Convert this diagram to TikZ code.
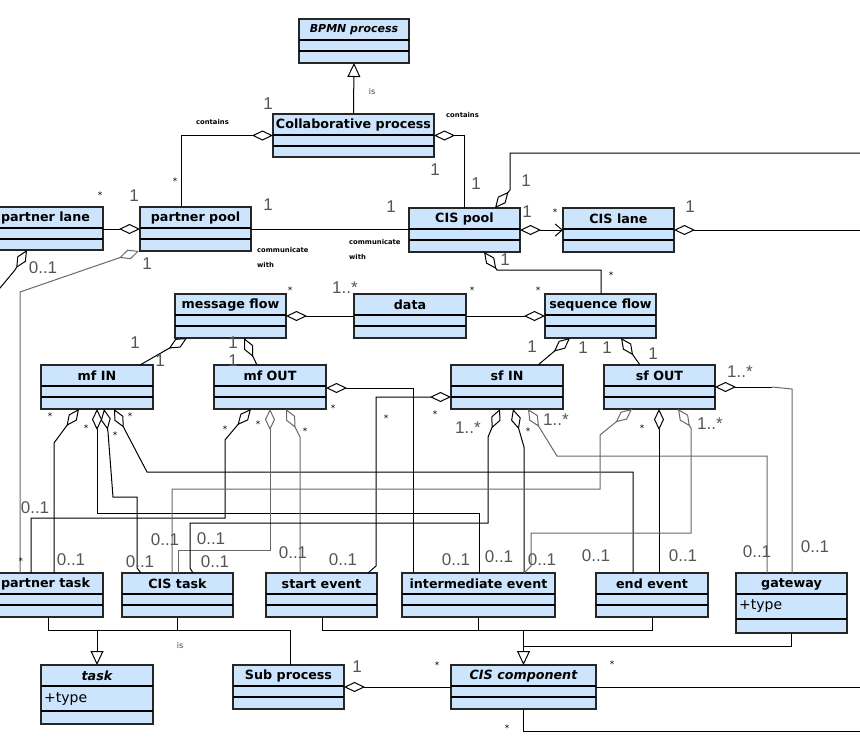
\documentclass[tikz,border=0pt]{standalone}
\usepackage{fontspec}
\setmainfont{DejaVu Sans}
\newfontfamily\multfont{Liberation Sans}
\usetikzlibrary{arrows.meta}
\definecolor{clsfill}{RGB}{204,228,252}
\definecolor{multgray}{RGB}{85,85,85}
\definecolor{lgray}{RGB}{105,105,105}
\tikzset{
 clsbox/.style={draw=black!85, fill=clsfill, line width=1.1pt, rectangle, inner sep=0pt, outer sep=0pt},
 cmpline/.style={line width=1.3pt, black},
 clsname/.style={font=\fontsize{12.7}{14}\selectfont\bfseries, inner sep=0pt},
 clsital/.style={font=\fontsize{12.7}{14}\selectfont\bfseries\itshape, inner sep=0pt},
 clsitals/.style={font=\fontsize{11}{13}\selectfont\bfseries\itshape, inner sep=0pt},
 attr/.style={font=\fontsize{14}{16}\selectfont, inner sep=0pt, anchor=west},
 conn/.style={draw=black, line width=1pt},
 conng/.style={draw=lgray, line width=1pt},
 agg/.style={{Diamond[open,length=21pt,width=10pt]}-},
 gen/.style={-{Triangle[open,length=14pt,width=13pt]}},
 mult/.style={font=\multfont\fontsize{17}{18}\selectfont, text=multgray, inner sep=0pt},
 star/.style={font=\fontsize{9}{10}\selectfont, inner sep=0pt},
 tinylbl/.style={font=\fontsize{6.8}{15}\selectfont\bfseries, inner sep=0pt, align=left, anchor=west},
 islbl/.style={font=\fontsize{8}{9}\selectfont, text=black!75, inner sep=0pt},
}
\newcommand{\umlcls}[8]{%
  \node[clsbox, minimum width={#4-#2}, minimum height={#5-#3}] (#1) at ({(#2+#4)/2},{(#3+#5)/2}) {};
  \draw[cmpline] ([yshift=-21pt]#1.north west) -- ([yshift=-21pt]#1.north east);
  \draw[cmpline] ([yshift=-#8pt]#1.north west) -- ([yshift=-#8pt]#1.north east);
  \node[#6] (#1-t) at ([yshift=-11pt]#1.north) {#7};
}
\begin{document}
\begin{tikzpicture}[x=1pt,y=-1pt]
\useasboundingbox (0,0) rectangle (860,737);
\clip (0,0) rectangle (860,737);
\fill[white] (0,0) rectangle (860,737);

% ---------- boxes ----------
\umlcls{bpmn}{299}{19}{409}{63}{clsitals}{BPMN process}{32}
\umlcls{collab}{273}{114}{434}{157}{clsname}{Collaborative process}{32}
\umlcls{plane}{-12}{207}{103}{250}{clsname}{partner lane}{32}
\umlcls{ppool}{140}{207}{251}{251}{clsname}{partner pool}{32}
\umlcls{cpool}{409}{208}{520}{252}{clsname}{CIS pool}{32}
\umlcls{clane}{563}{208}{674}{252}{clsname}{CIS lane}{32}
\umlcls{mflow}{175}{294}{286}{338}{clsname}{message flow}{32}
\umlcls{data}{354}{294}{466}{338}{clsname}{data}{32}
\umlcls{sflow}{545}{294}{656}{338}{clsname}{sequence flow}{32}
\umlcls{mfin}{41}{365}{153}{409}{clsname}{mf IN}{32}
\umlcls{mfout}{214}{365}{326}{409}{clsname}{mf OUT}{32}
\umlcls{sfin}{451}{365}{563}{409}{clsname}{sf IN}{32}
\umlcls{sfout}{604}{365}{715}{409}{clsname}{sf OUT}{32}
\umlcls{ptask}{-12}{573}{103}{617}{clsname}{partner task}{32}
\umlcls{ctask}{122}{573}{233}{617}{clsname}{CIS task}{32}
\umlcls{sevent}{266}{573}{377}{617}{clsname}{start event}{32}
\umlcls{ievent}{402}{573}{555}{617}{clsname}{intermediate event}{32}
\umlcls{eevent}{596}{573}{708}{617}{clsname}{end event}{32}
\umlcls{gateway}{736}{573}{847}{633}{clsname}{gateway}{46}
\umlcls{task}{41}{665}{153}{724}{clsital}{task}{46}
\umlcls{subp}{233}{665}{344}{709}{clsname}{Sub process}{32}
\umlcls{ccomp}{451}{665}{596}{709}{clsital}{CIS component}{32}
\node[attr] (gattr) at ([xshift=3pt,yshift=-33pt]gateway.north west) {+type};
\node[attr] (tattr) at ([xshift=3pt,yshift=-34pt]task.north west) {+type};

% ---------- generalizations ----------
\draw[conn, gen] (collab.north) -- (bpmn.south);
\node[islbl] (is1) at (372,92) {is};
\draw[conn] (48,0 |- ptask.south) -- (48,630) -- (290,630) -- (290,0 |- subp.north);
\draw[conn] (ctask.south) -- (177.5,630);
\draw[conn, gen] (97,630) -- (task.north);
\node[islbl] (is2) at (180,646) {is};
\draw[conn] (322,0 |- sevent.south) -- (322,630) -- (652,630) -- (eevent.south);
\draw[conn] (ievent.south) -- (478.5,630);
\draw[conn] (gateway.south) -- (791.5,646) -- (523.5,646);
\draw[conn, gen] (523.5,630) -- (ccomp.north);

% ---------- upper associations ----------
\draw[conn, agg] (collab.west) -- (181,135.5) -- (181,0 |- ppool.north);
\draw[conn, agg] (collab.east) -- (464,135.5) -- (464,0 |- cpool.north);
\node[tinylbl] (c1) at (196,122) {contains};
\node[tinylbl] (c2) at (446,115) {contains};
\draw[conn, agg] (ppool.west) -- (plane.east |- ppool.west);
\draw[conn] (ppool.east) -- (cpool.west |- ppool.east);
\node[tinylbl] (cw1) at (257,257) {communicate\\with};
\node[tinylbl] (cw2) at (349,249) {communicate\\with};
\draw[conn, {Diamond[open,length=21pt,width=10pt]}-{Straight Barb[length=7pt,width=12pt]}] (cpool.east) -- (clane.west);
\draw[conn, agg] (495,0 |- cpool.north) -- (510,190) -- (510,153) -- (870,153);
\draw[conn, agg] (484,0 |- cpool.south) -- (497,270) -- (601,270) -- (601,0 |- sflow.north);
\draw[conn, agg] (clane.east) -- (870,230);
\draw[conng, agg] (139,0 |- ppool.south) -- (20,292) -- (20,0 |- ptask.north);
\draw[conn, agg] (27,0 |- plane.south) -- (15,270) -- (-10,300);

% ---------- flows ----------
\draw[conn, agg] (mflow.east) -- (data.west);
\draw[conn, agg] (sflow.west) -- (data.east);
\draw[conn, agg] (187,0 |- mflow.south) -- (140,0 |- mfin.north);
\draw[conn, agg] (244,0 |- mflow.south) -- (257,0 |- mfout.north);
\draw[conn, agg] (570,0 |- sflow.south) -- (538,0 |- sfin.north);
\draw[conn, agg] (621,0 |- sflow.south) -- (640,0 |- sfout.north);
\draw[conn, agg] (sfout.east) -- (772,387);
\draw[conng] (772,387) -- (792,389) -- (792,0 |- gateway.north);
\draw[conn, agg] (0,397 -| sfin.west) -- (376,397) -- (376,566) -- (368,0 |- sevent.north);
\draw[conn, agg] (0,388 -| mfout.east) -- (413,388) -- (413,0 |- ievent.north);

% ---------- mf IN ----------
\draw[conn, agg] (79,0 |- mfin.south) -- (54,443) -- (54,0 |- ptask.north);
\draw[conn, agg] (97,0 |- mfin.south) -- (97,513) -- (479,513) -- (479,0 |- ievent.north);
\draw[conn, agg] (104,0 |- mfin.south) -- (108,432) -- (113,497) -- (137,497) -- (137,568) -- (141,0 |- ctask.north);
\draw[conn, agg] (114,0 |- mfin.south) -- (147,472) -- (633,472) -- (633,0 |- eevent.north);
% ---------- mf OUT ----------
\draw[conn, agg] (251,0 |- mfout.south) -- (225,440) -- (225,518) -- (31,518) -- (31,0 |- ptask.north);
\draw[conng, agg] (270,0 |- mfout.south) -- (270,550) -- (178,550) -- (178,0 |- ctask.north);
\draw[conng, agg] (286,0 |- mfout.south) -- (300,437) -- (300,0 |- sevent.north);
% ---------- sf IN ----------
\draw[conn, agg] (500,0 |- sfin.south) -- (488,437) -- (488,523) -- (190,523) -- (190,568) -- (193,0 |- ctask.north);
\draw[conn, agg] (513,0 |- sfin.south) -- (524,447) -- (524,0 |- ievent.north);
\draw[conng, agg] (528,0 |- sfin.south) -- (557,456) -- (767,456) -- (767,0 |- gateway.north);
% ---------- sf OUT ----------
\draw[conng, agg] (632,0 |- sfout.south) -- (600,435) -- (600,489) -- (172,489) -- (172,0 |- ctask.north);
\draw[conn, agg] (659,0 |- sfout.south) -- (659,0 |- eevent.north);
\draw[conng, agg] (678,0 |- sfout.south) -- (691,428) -- (691,533) -- (531,533) -- (531,566) -- (524,0 |- ievent.north);

% ---------- bottom ----------
\draw[conn, agg] (subp.east) -- (ccomp.west);
\draw[conn] (ccomp.east) -- (870,687);
\draw[conn] (523,0 |- ccomp.south) -- (523,731) -- (870,731);

% ---------- multiplicities ----------
\node[mult] (m1) at (268,104) {1};
\node[star] (s1) at (175,181) {*};
\node[mult] (m2) at (435,170) {1};
\node[star] (s2) at (100,195) {*};
\node[mult] (m3) at (134,196) {1};
\node[mult] (m4) at (268,205) {1};
\node[mult] (m5) at (391,207) {1};
\node[mult] (m6) at (476,184) {1};
\node[mult] (m7) at (526,181) {1};
\node[mult] (m8) at (527,212) {1};
\node[star] (s3) at (555,212) {*};
\node[mult] (m9) at (690,207) {1};
\node[mult] (m10) at (147,264) {1};
\node[mult] (m11) at (43,268) {0..1};
\node[mult] (m12) at (505,260) {1};
\node[star] (s4) at (611,275) {*};
\node[star] (s5) at (290,290) {*};
\node[mult] (m13) at (345,288) {1..*};
\node[star] (s6) at (472,290) {*};
\node[star] (s7) at (538,290) {*};
\node[mult] (m14) at (135,343) {1};
\node[mult] (m15) at (160,361) {1};
\node[mult] (m16) at (233,343) {1};
\node[mult] (m17) at (233,361) {1};
\node[mult] (m18) at (532,347) {1};
\node[mult] (m19) at (583,348) {1};
\node[mult] (m20) at (607,348) {1};
\node[mult] (m21) at (653,354) {1};
\node[mult] (m22) at (740,372) {1..*};
\node[star] (s8) at (50,416) {*};
\node[star] (s9) at (86,428) {*};
\node[star] (s10) at (115,435) {*};
\node[star] (s11) at (130,416) {*};
\node[star] (s12) at (225,429) {*};
\node[star] (s13) at (258,424) {*};
\node[star] (s14) at (305,431) {*};
\node[star] (s15) at (333,408) {*};
\node[star] (s16) at (386,418) {*};
\node[star] (s17) at (435,414) {*};
\node[mult] (m23) at (468,428) {1..*};
\node[star] (s18) at (528,431) {*};
\node[mult] (m24) at (556,420) {1..*};
\node[star] (s19) at (642,428) {*};
\node[mult] (m25) at (710,424) {1..*};
\node[mult] (m26) at (35,508) {0..1};
\node[star] (s20) at (21,561) {*};
\node[mult] (m27) at (71,560) {0..1};
\node[mult] (m28) at (165,540) {0..1};
\node[mult] (m29) at (211,539) {0..1};
\node[mult] (m30) at (140,562) {0..1};
\node[mult] (m31) at (215,562) {0..1};
\node[mult] (m32) at (293,553) {0..1};
\node[mult] (m33) at (343,560) {0..1};
\node[mult] (m34) at (456,560) {0..1};
\node[mult] (m35) at (499,557) {0..1};
\node[mult] (m36) at (542,560) {0..1};
\node[mult] (m37) at (596,556) {0..1};
\node[mult] (m38) at (683,556) {0..1};
\node[mult] (m39) at (757,552) {0..1};
\node[mult] (m40) at (815,547) {0..1};
\node[mult] (m41) at (357,667) {1};
\node[star] (s21) at (437,665) {*};
\node[star] (s22) at (612,664) {*};
\node[star] (s23) at (507,728) {*};
\end{tikzpicture}
\end{document}
